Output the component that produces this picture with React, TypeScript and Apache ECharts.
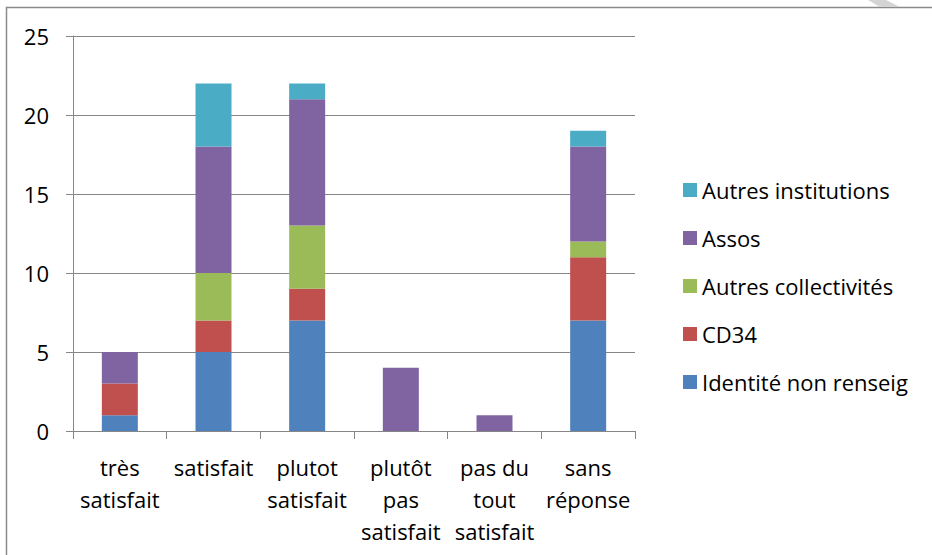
import React, { useEffect, useRef } from "react";
import * as echarts from "echarts";

const categories = [
  "très\nsatisfait",
  "satisfait",
  "plutot\nsatisfait",
  "plutôt\npas\nsatisfait",
  "pas du\ntout\nsatisfait",
  "sans\nréponse",
];
const identite = [1, 5, 7, 0, 0, 7];
const cd34 = [2, 2, 2, 0, 0, 4];
const autresCollectivites = [0, 3, 4, 0, 0, 1];
const assos = [2, 8, 8, 4, 1, 6];
const autresInstitutions = [0, 4, 1, 0, 0, 1];
const yTicks = { min: 0, max: 25, interval: 5 };

const FONT = "'Open Sans', 'Noto Sans', sans-serif";

export default function App() {
  const ref = useRef<HTMLDivElement>(null);
  useEffect(() => {
    if (!ref.current) return;
    const chart = echarts.init(ref.current, null, { renderer: "svg" });
    const mk = (name: string, data: number[], color: string) => ({
      name,
      type: "bar",
      stack: "total",
      data,
      barWidth: 36,
      itemStyle: { color },
    });
    chart.setOption({
      animation: false,
      backgroundColor: "#ffffff",
      textStyle: { fontFamily: FONT },
      grid: { left: 73, right: 297, top: 36, bottom: 124 },
      legend: {
        orient: "vertical",
        left: 678,
        top: 173,
        itemWidth: 14,
        itemHeight: 14,
        itemGap: 24,
        icon: "rect",
        data: ["Autres institutions", "Assos", "Autres collectivités", "CD34", "Identité non renseig"],
        textStyle: { fontSize: 22, color: "#000", fontFamily: FONT, lineHeight: 24 },
      },
      xAxis: {
        type: "category",
        data: categories,
        axisLine: { lineStyle: { color: "#868686", width: 1 } },
        axisTick: { show: true, length: 8, lineStyle: { color: "#868686" } },
        axisLabel: {
          interval: 0,
          color: "#000",
          fontSize: 22,
          fontFamily: FONT,
          lineHeight: 32,
          margin: 20,
        },
      },
      yAxis: {
        type: "value",
        min: yTicks.min,
        max: yTicks.max,
        interval: yTicks.interval,
        axisLine: { show: true, lineStyle: { color: "#868686", width: 1 } },
        axisTick: { show: true, length: 7, lineStyle: { color: "#868686" } },
        splitLine: { show: true, lineStyle: { color: "#868686", width: 1 } },
        axisLabel: { color: "#000", fontSize: 22, fontFamily: FONT, margin: 24 },
      },
      series: [
        mk("Identité non renseig", identite, "#4F81BD"),
        mk("CD34", cd34, "#C0504D"),
        mk("Autres collectivités", autresCollectivites, "#9BBB59"),
        mk("Assos", assos, "#8064A2"),
        mk("Autres institutions", autresInstitutions, "#4BACC6"),
      ],
      graphic: [
        {
          type: "rect",
          shape: { x: 6.5, y: 7.5, width: 940, height: 560 },
          style: { fill: "none", stroke: "#8a8a8a", lineWidth: 1.5 },
          silent: true,
        },
        {
          type: "polygon",
          shape: { points: [[868, 0], [886, 0], [900, 7], [880, 7]] },
          style: { fill: "#d4d4d4" },
          silent: true,
        },
      ],
    });
    return () => chart.dispose();
  }, []);
  return (
    <div
      ref={ref}
      style={{ position: "absolute", left: 0, top: 0, width: 932, height: 555 }}
    />
  );
}
